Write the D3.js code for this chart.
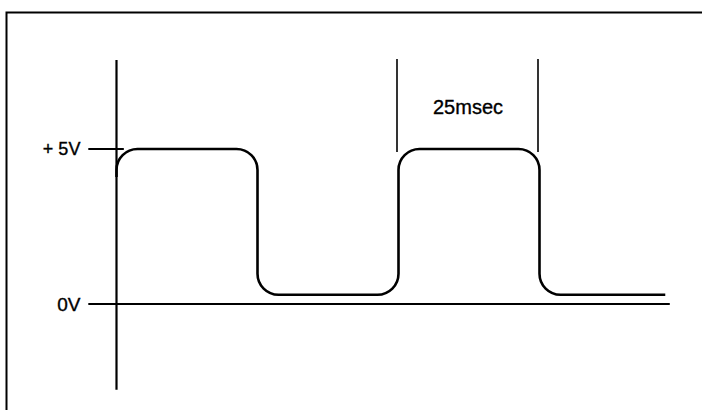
<!DOCTYPE html>
<html>
<head>
<meta charset="utf-8">
<script src="https://cdn.jsdelivr.net/npm/d3@7"></script>
<style>
  body { margin: 0; background: #fff; }
  text { font-family: "Liberation Sans", Arial, sans-serif; fill: #000; stroke: #000; stroke-width: 0.35px; }
</style>
</head>
<body>
<div id="chart"></div>
<script>
// waveform corner points (time in msec, level in volts)
const waveTimes = [0, 0, 25, 25, 50, 50, 75, 75, 97.3];
const waveVolts = [4.1, 5, 5, 0.3, 0.3, 5, 5, 0.3, 0.3];

// voltage reference ticks
const levelTicks = [5, 0];
const levelLabels = ['+ 5V', '0V'];

// period markers
const markerTimes = [50, 75];
const markerLabel = '25msec';

const WIDTH = 702;
const HEIGHT = 410;

const svg = d3.select('#chart').append('svg')
  .attr('width', WIDTH)
  .attr('height', HEIGHT);

// scales: 25 msec ~ 141px, 5V ~ 155px
const x = d3.scaleLinear().domain([0, 100]).range([116.5, 680.5]);
const y = d3.scaleLinear().domain([0, 5]).range([304, 149]);

// frame (top + left only)
svg.append('path')
  .attr('d', `M6.5,${HEIGHT} V12.5 H${WIDTH}`)
  .attr('fill', 'none')
  .attr('stroke', '#000')
  .attr('stroke-width', 2);

// vertical axis
svg.append('line')
  .attr('x1', x(0)).attr('x2', x(0))
  .attr('y1', y(7.87)).attr('y2', y(-2.77))
  .attr('stroke', '#000')
  .attr('stroke-width', 2.2);

// +5V tick and 0V baseline
svg.append('line')
  .attr('x1', x(-5)).attr('x2', x(1.3))
  .attr('y1', y(5)).attr('y2', y(5))
  .attr('stroke', '#000')
  .attr('stroke-width', 2);

svg.append('line')
  .attr('x1', x(-5)).attr('x2', x(98.1))
  .attr('y1', y(0)).attr('y2', y(0))
  .attr('stroke', '#000')
  .attr('stroke-width', 2);

svg.selectAll('.level-label')
  .data(levelTicks)
  .enter()
  .append('text')
  .attr('class', 'level-label')
  .attr('x', x(-6.4))
  .attr('y', (d) => y(d))
  .attr('dy', '0.36em')
  .attr('text-anchor', 'end')
  .style('font-size', (d, i) => (i === 0 ? '18px' : '19px'))
  .text((d, i) => levelLabels[i]);

// period markers
svg.selectAll('.marker')
  .data(markerTimes)
  .enter()
  .append('line')
  .attr('class', 'marker')
  .attr('x1', (d) => x(d) - 1.5).attr('x2', (d) => x(d) - 1.5)
  .attr('y1', y(7.9)).attr('y2', y(4.9))
  .attr('stroke', '#000')
  .attr('stroke-width', 1.6);

svg.append('text')
  .attr('x', x(d3.mean(markerTimes)) - 1)
  .attr('y', y(6.35))
  .attr('dy', '0.36em')
  .attr('text-anchor', 'middle')
  .style('font-size', '20px')
  .text(markerLabel);

// waveform with rounded corners
const pts = waveTimes.map((t, i) => [x(t), y(waveVolts[i])]);
const p = d3.path();
p.moveTo(pts[0][0], pts[0][1]);
for (let i = 1; i < pts.length - 1; i += 1) {
  p.arcTo(pts[i][0], pts[i][1], pts[i + 1][0], pts[i + 1][1], 21);
}
p.lineTo(pts[pts.length - 1][0], pts[pts.length - 1][1]);

svg.append('path')
  .attr('d', p.toString())
  .attr('fill', 'none')
  .attr('stroke', '#000')
  .attr('stroke-width', 2.6);
</script>
</body>
</html>
